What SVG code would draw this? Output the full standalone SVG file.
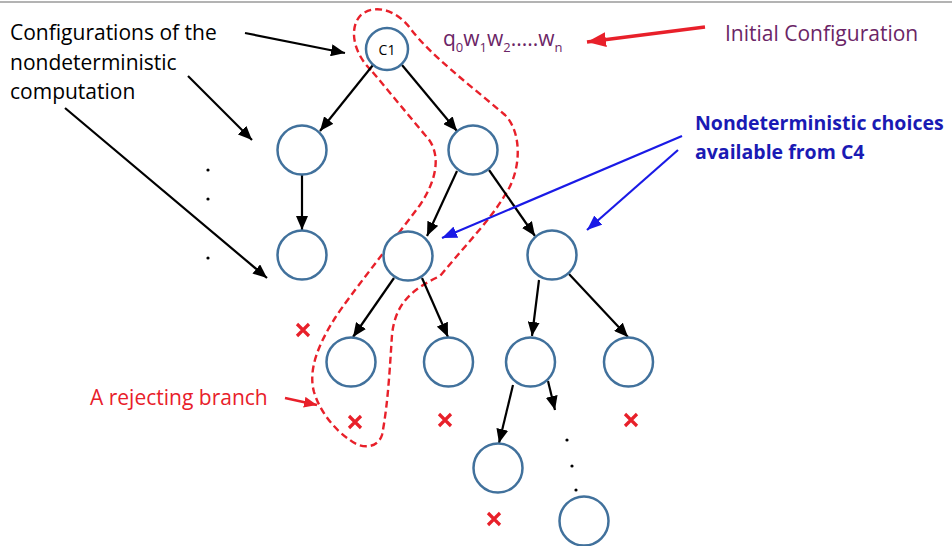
<svg xmlns="http://www.w3.org/2000/svg" width="952" height="546" viewBox="0 0 952 546">
<style>
.node{fill:#fff;stroke:#41719C;stroke-width:2.5}
.edge{stroke:#000;stroke-width:2.2;fill:none;marker-end:url(#ab)}
.lbl{font-family:"Open Sans","Liberation Sans",sans-serif;font-size:21px}
.blbl{font-family:"Open Sans","Liberation Sans",sans-serif;font-size:19.5px;font-weight:bold;fill:#1A1AB4}
.x{stroke:#E8202A;stroke-width:3.2;fill:none}
.dot{fill:#000}
</style>
<defs>
<marker id="ab" markerUnits="userSpaceOnUse" markerWidth="14" markerHeight="12" refX="14" refY="6" orient="auto"><path d="M0,0 L14,6 L0,12 z" fill="#000"/></marker>
<marker id="abl" markerUnits="userSpaceOnUse" markerWidth="15" markerHeight="12" refX="15" refY="6" orient="auto"><path d="M0,0 L15,6 L0,12 z" fill="#1A1AE6"/></marker>
<marker id="ar" markerUnits="userSpaceOnUse" markerWidth="19" markerHeight="15" refX="19" refY="7.5" orient="auto"><path d="M0,0 L19,7.5 L0,15 z" fill="#E8202A"/></marker>
<marker id="ars" markerUnits="userSpaceOnUse" markerWidth="13" markerHeight="11" refX="13" refY="5.5" orient="auto"><path d="M0,0 L13,5.5 L0,11 z" fill="#E8202A"/></marker>
</defs>
<rect width="952" height="546" fill="#fff"/>
<line x1="0" y1="2" x2="952" y2="2" stroke="#9a9a9a" stroke-width="1.5"/>

<path id="rejecting-outline" d="M371,70 C355,55 348,30 360,16 C372,4 395,8 410,28 C430,55 470,85 505,115 C522,132 522,170 505,195 C490,220 470,240 440,276 C410,290 395,305 392,335 C390,365 388,405 382,435 C378,448 362,450 350,440 C335,430 320,412 314,392 C308,370 318,345 335,318 C350,295 390,245 420,205 C440,175 440,150 425,135 Z" fill="none" stroke="#E8202A" stroke-width="2.4" stroke-dasharray="7,4"/>

<g id="connectors">
<line class="edge" x1="373" y1="65" x2="320" y2="131"/>
<line class="edge" x1="402" y1="65" x2="457" y2="131"/>
<line class="edge" x1="302" y1="175" x2="302" y2="230"/>
<line class="edge" x1="457" y1="171" x2="427" y2="236"/>
<line class="edge" x1="489" y1="170" x2="535" y2="236"/>
<line class="edge" x1="394" y1="278" x2="353" y2="337"/>
<line class="edge" x1="422" y1="278" x2="448" y2="337"/>
<line class="edge" x1="539" y1="280" x2="532" y2="336"/>
<line class="edge" x1="569" y1="274" x2="628" y2="337"/>
<line class="edge" x1="513" y1="385" x2="499" y2="443"/>
<line class="edge" x1="548" y1="381" x2="555" y2="410"/>
<line class="edge" x1="245" y1="33" x2="345" y2="53"/>
<line class="edge" x1="188" y1="76" x2="252" y2="140"/>
<line class="edge" x1="65" y1="108" x2="267" y2="278"/>
<line x1="705" y1="27" x2="587" y2="42" stroke="#E8202A" stroke-width="3.5" marker-end="url(#ar)"/>
<line x1="682" y1="136" x2="442" y2="238" stroke="#1A1AE6" stroke-width="2.2" marker-end="url(#abl)"/>
<line x1="678" y1="150" x2="587" y2="230" stroke="#1A1AE6" stroke-width="2.2" marker-end="url(#abl)"/>
<line x1="285" y1="398" x2="317" y2="405" stroke="#E8202A" stroke-width="2.5" marker-end="url(#ars)"/>
</g>

<g id="C1"><circle class="node" cx="387" cy="49" r="21"/><text x="387" y="55" text-anchor="middle" font-family="'Open Sans','Liberation Sans',sans-serif" font-size="14">C1</text></g>
<g id="n2a"><circle class="node" cx="302" cy="150" r="24.5"/></g>
<g id="n2b"><circle class="node" cx="473" cy="150" r="24.5"/></g>
<g id="n3a"><circle class="node" cx="302" cy="255" r="24.5"/></g>
<g id="C4"><circle class="node" cx="408" cy="256" r="24.5"/></g>
<g id="n3c"><circle class="node" cx="552" cy="255" r="24.5"/></g>
<g id="n4a"><circle class="node" cx="351" cy="362" r="24.5"/></g>
<g id="n4b"><circle class="node" cx="448.5" cy="362" r="24.5"/></g>
<g id="n4c"><circle class="node" cx="530.5" cy="362" r="24.5"/></g>
<g id="n4d"><circle class="node" cx="628.5" cy="362" r="24.5"/></g>
<g id="n5a"><circle class="node" cx="498" cy="468" r="24.5"/></g>
<g id="n5b"><circle class="node" cx="584" cy="521" r="24.5"/></g>

<g id="dots">
<circle class="dot" cx="208" cy="170" r="1.6"/>
<circle class="dot" cx="208" cy="199" r="1.6"/>
<circle class="dot" cx="208" cy="258" r="1.6"/>
<circle class="dot" cx="567" cy="440" r="1.6"/>
<circle class="dot" cx="572" cy="466" r="1.6"/>
<circle class="dot" cx="576" cy="490" r="1.6"/>
</g>

<g id="rejects">
<path class="x" d="M297,324 l12,12 m0,-12 l-12,12"/>
<path class="x" d="M349,416 l12,12 m0,-12 l-12,12"/>
<path class="x" d="M439,414 l12,12 m0,-12 l-12,12"/>
<path class="x" d="M625,414 l12,12 m0,-12 l-12,12"/>
<path class="x" d="M488,513 l12,12 m0,-12 l-12,12"/>
</g>

<g id="labels">
<text class="lbl" x="10" y="40" fill="#000">Configurations of the</text>
<text class="lbl" x="10" y="70" fill="#000">nondeterministic</text>
<text class="lbl" x="10" y="99" fill="#000">computation</text>
<text class="lbl" x="443" y="46" fill="#6B2566">q<tspan font-size="13" dy="6">0</tspan><tspan dy="-6">w</tspan><tspan font-size="13" dy="6">1</tspan><tspan dy="-6">w</tspan><tspan font-size="13" dy="6">2</tspan><tspan dy="-6">.....w</tspan><tspan font-size="13" dy="6">n</tspan></text>
<text class="lbl" x="725" y="41" fill="#6B2566">Initial Configuration</text>
<text class="blbl" x="695" y="130">Nondeterministic choices</text>
<text class="blbl" x="695" y="159">available from C4</text>
<text class="lbl" x="90" y="405" fill="#E8202A">A rejecting branch</text>
</g>
</svg>
